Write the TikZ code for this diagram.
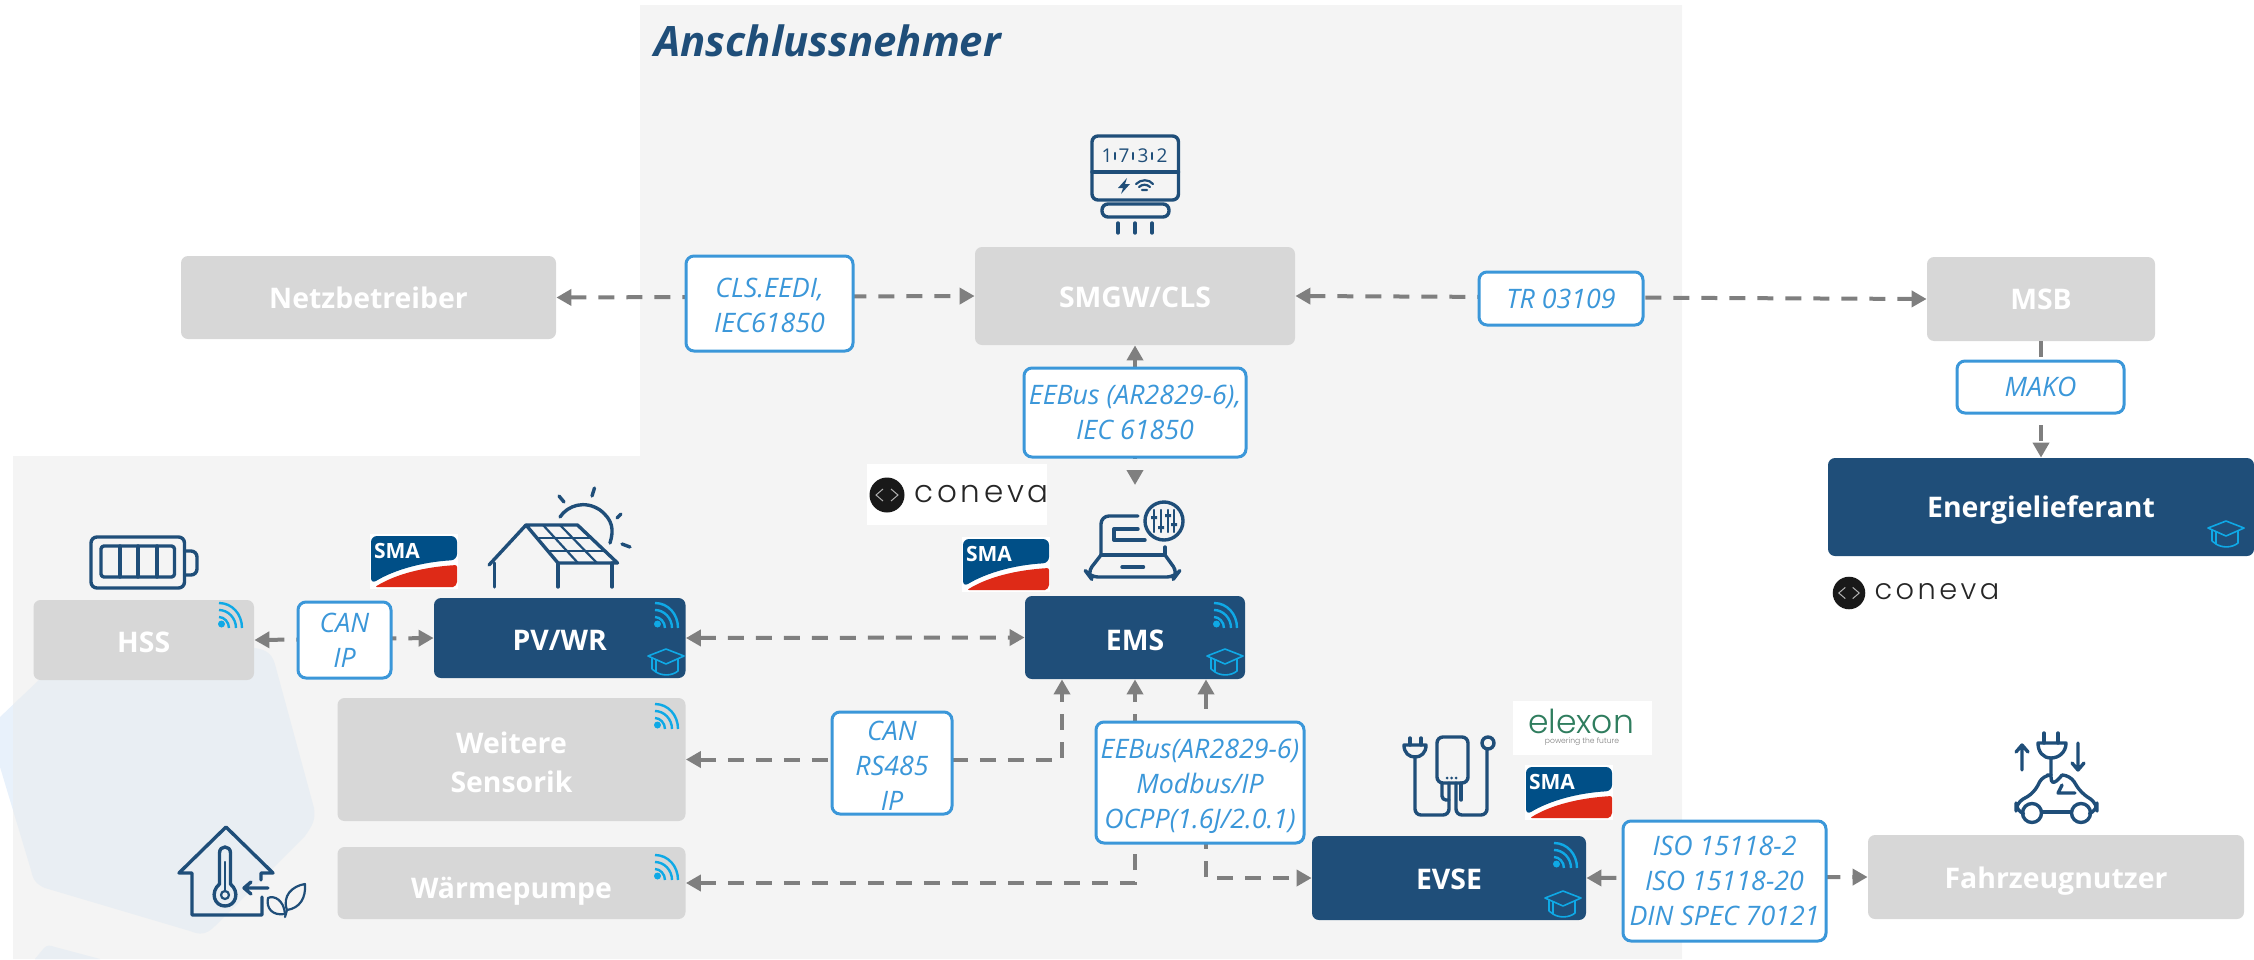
\documentclass[tikz,border=0pt]{standalone}
\usepackage{fontspec}
\setmainfont{Open Sans}
\newfontfamily\logofont[LetterSpace=12]{Poppins Light}
\newfontfamily\elexfont{Poppins Light}
\usetikzlibrary{arrows.meta}
\newcommand{\lw}[1]{\rule{0pt}{#1pt}}
\definecolor{dkblue}{HTML}{1F4E79}
\definecolor{panelgray}{HTML}{F4F4F4}
\definecolor{boxgray}{HTML}{D7D7D7}
\definecolor{linegray}{HTML}{7F7F7F}
\definecolor{tagblue}{HTML}{3B97D9}
\definecolor{skyblue}{HTML}{0FA9E6}
\definecolor{smablue}{HTML}{004F87}
\definecolor{smared}{HTML}{DE2A17}
\definecolor{hexin}{HTML}{E9EEF3}
\definecolor{hexout}{HTML}{E8F1FB}
\definecolor{elexgreen}{HTML}{2F7D5E}
\tikzset{
  x=0.5pt,y=-0.5pt,
  graybox/.style={fill=boxgray,rounded corners=3.5pt,inner sep=0pt,text=white,font=\bfseries\fontsize{14.2}{19.5}\selectfont,align=center},
  bluebox/.style={graybox,fill=dkblue},
  tag/.style={draw=tagblue,fill=white,line width=1.5pt,rounded corners=4pt,inner sep=0pt,text=tagblue,font=\itshape\fontsize{13.4}{17.5}\selectfont,align=center},
  link/.style={draw=linegray,line width=2pt,dash pattern=on 8pt off 6pt,{Triangle[length=7.5pt,width=8pt]}-{Triangle[length=7.5pt,width=8pt]}},
  linkto/.style={draw=linegray,line width=2pt,dash pattern=on 8pt off 6pt,-{Triangle[length=7.5pt,width=8pt]}},
  icon/.style={draw=dkblue,line width=1.7pt,line cap=round,line join=round},
  thinicon/.style={draw=dkblue,line width=1.1pt,line cap=round,line join=round},
  wifi/.pic={
    \fill[skyblue] (3.5,21) circle[radius=3.5];
    \draw[skyblue,line width=1.2pt] (1,14) .. controls (6,14) and (11,19) .. (11,25);
    \draw[skyblue,line width=1.2pt] (1,7) .. controls (10,7) and (18,15) .. (18,25);
    \draw[skyblue,line width=1.2pt] (1,0) .. controls (14,0) and (24,11) .. (24,25);
  },
  cap/.pic={
    \draw[skyblue,line width=0.8pt,line join=round] (18,0) -- (36,7) -- (18,15) -- (0,7) -- cycle;
    \draw[skyblue,line width=0.8pt,line join=round] (8,11) -- (8,23) .. controls (14,27) and (24,27) .. (30,22) -- (30,10);
    \draw[skyblue,line width=0.8pt] (4,9) -- (4,20) (4,20) -- (8,23);
  },
  sma/.pic={
    \fill[white] (0,0) rectangle (88,55);
    \fill[smablue,rounded corners=3pt] (1,2) -- (87,2) -- (87,26) .. controls (52,28) and (24,36) .. (1,50) -- cycle;
    \fill[smared,rounded corners=1pt] (5,53) .. controls (26,40) and (54,33) .. (87,31) -- (87,46) .. controls (87,50) and (85,53) .. (81,53) -- cycle;
    \node[text=white,font=\bfseries\fontsize{10.5}{11}\selectfont,inner sep=0pt] (t) at (27,17) {SMA};
  },
  conevalogo/.pic={
    \fill[black!90] (0,0) circle[radius=17.5];
    \draw[white!70!black,line width=0.5pt] (-4,-6) -- (-11,0) -- (-4,6) (4,-6) -- (11,0) -- (4,6);
    \node[anchor=west,text=black!85,font=\logofont\fontsize{15.5}{17}\selectfont,inner sep=0pt] (t) at (27,-1) {coneva};
  }
}
\begin{document}
\begin{tikzpicture}
\useasboundingbox (0,0) rectangle (2254,959);
\def\hexa{(200,642) -- (255,648) .. controls (268,650) and (273,655) .. (276,668) -- (314,808) .. controls (316,820) and (312,826) .. (305,836) -- (215,926) .. controls (206,935) and (200,935) .. (190,931) -- (45,888) .. controls (36,884) and (33,880) .. (31,870) -- (0,767) -- (0,717) -- (39,680) -- cycle}
\def\hexb{(35,959) -- (44,948) .. controls (47,945) and (50,945) .. (55,947) -- (100,959) -- cycle}
% background
\fill[hexout] \hexa;
\fill[hexout] \hexb;
\fill[panelgray] (640,5) -- (1682,5) -- (1682,959) -- (13,959) -- (13,456) -- (640,456) -- cycle;
\begin{scope}
  \clip (13,456) rectangle (1682,959);
  \fill[hexin] \hexa;
  \fill[hexin] \hexb;
\end{scope}
\node[anchor=west,text=dkblue,font=\bfseries\itshape\fontsize{20.9}{24}\selectfont,inner sep=0pt] (title) at (654,41) {Anschlussnehmer};

% boxes
\node[graybox,minimum width=187.5pt,minimum height=41.5pt] (net) at (368.5,297.5) {Netzbetreiber};
\node[graybox,minimum width=160pt,minimum height=49pt] (smgw) at (1135,296) {\lw{12}SMGW/CLS};
\node[graybox,minimum width=114pt,minimum height=42pt] (msb) at (2041,299) {MSB};
\node[bluebox,minimum width=213pt,minimum height=49pt] (energie) at (2041,507) {\lw{13.8}Energielieferant};
\node[graybox,minimum width=110.25pt,minimum height=40pt] (hss) at (143.75,640) {\lw{13}HSS};
\node[bluebox,minimum width=125.75pt,minimum height=40pt] (pv) at (559.75,638) {\lw{12}PV/WR};
\node[graybox,minimum width=174pt,minimum height=61.5pt] (weitere) at (511.5,759.5) {\lw{13.5}Weitere\\Sensorik};
\node[graybox,minimum width=174pt,minimum height=36pt] (waerme) at (511.5,883) {\lw{19}Wärmepumpe};
\node[bluebox,minimum width=110pt,minimum height=41.5pt] (ems) at (1135,637.5) {\lw{13}EMS};
\node[bluebox,minimum width=137pt,minimum height=42pt] (evse) at (1449,878) {\lw{12}EVSE};
\node[graybox,minimum width=188pt,minimum height=42pt] (fahr) at (2056,877) {\lw{15}Fahrzeugnutzer};

% connectors
\coordinate (emsL) at ([xshift=-36.5pt]ems.south);
\coordinate (emsR) at ([xshift=35.5pt]ems.south);
\coordinate (laptopTop) at (1135,485);
\draw[link] (net.east) -- (smgw.west);
\draw[link] (smgw.east) -- (msb.west);
\draw[link] (smgw.south) -- (laptopTop);
\draw[linkto] (msb.south) -- (energie.north);
\draw[link] (hss.east) -- (pv.west);
\draw[link] (pv.east) -- (ems.west);
\draw[link] (weitere.east) -| (emsL);
\draw[link] (waerme.east) -| (ems.south);
\draw[link] (emsR) |- (evse.west);
\draw[link] (evse.east) -- (fahr.west);

% tags
\node[tag,minimum width=83.5pt,minimum height=47.5pt] (tcls) at (769.5,303.5) {\lw{12}CLS.EEDI,\\IEC61850};
\node[tag,minimum width=82pt,minimum height=26.5pt] (ttr) at (1561,298.5) {TR 03109};
\node[tag,minimum width=111pt,minimum height=44.5pt] (tee1) at (1135,412.5) {EEBus (AR2829-6),\\IEC 61850};
\node[tag,minimum width=83.5pt,minimum height=26pt] (tmako) at (2040.5,387) {MAKO};
\node[tag,minimum width=46.5pt,minimum height=38pt] (tcan2) at (344.5,640) {CAN\\IP};
\node[tag,minimum width=60pt,minimum height=51pt] (tcan3) at (892,763) {\lw{12.2}CAN\\RS485\\IP};
\node[tag,minimum width=104pt,minimum height=60.5pt] (tee2) at (1200,782.5) {\lw{14}EEBus(AR2829-6)\\Modbus/IP\\OCPP(1.6J/2.0.1)};
\node[tag,minimum width=101.5pt,minimum height=60pt] (tiso) at (1724.5,881) {ISO 15118-2\\ISO 15118-20\\DIN SPEC 70121};

% wifi and caps
\foreach \px/\py in {218/603,654/603,654/704,654/855,1213/603,1553/843} \pic at (\px,\py) {wifi};
\foreach \px/\py in {648/649,1207/649,1545/891,2208/521} \pic at (\px,\py) {cap};

% logos
\pic (smaA) at (370,534) {sma};
\pic (smaB) at (962,537) {sma};
\pic (smaC) at (1525,765) {sma};
\fill[white] (867,464) rectangle (1047,525);
\pic (conA) at (887,495) {conevalogo};
\pic[scale=0.93,transform shape] (conB) at (1849,593) {conevalogo};
\fill[white] (1513,701) rectangle (1652,755);
\node[text=elexgreen,font=\elexfont\fontsize{16.5}{20}\selectfont,inner sep=0pt] (elexA) at (1581,721) {elexon};
\node[text=black!50,font=\elexfont\fontsize{3.8}{5}\selectfont,inner sep=0pt] (elexB) at (1582,742) {powering the future};

% battery
\draw[icon,rounded corners=3pt] (91,537) rectangle (184.5,588);
\draw[icon,rounded corners=3pt] (184.5,551) -- (197,551) -- (197,575) -- (184.5,575);
\draw[icon,rounded corners=1.5pt] (101,546) rectangle (174.5,577);
\draw[icon] (120,546) -- (120,577) (138,546) -- (138,577) (157,546) -- (157,577);

% house with PV
\draw[icon] (489,565) -- (526,525);
\draw[icon] (526,525) -- (577.5,525) -- (617.5,563) -- (558,563) -- cycle;
\draw[icon] (494.5,563) -- (494.5,587) (558,563) -- (558,587) (612,563) -- (612,587);
\draw[thinicon] (539,538) -- (591,538) (550,551) -- (604,551);
\draw[thinicon] (543,525) -- (578,563) (560,525) -- (597,563);
\draw[icon] (560,517) .. controls (568,505) and (585,500) .. (600,510) .. controls (613,520) and (614,530) .. (610,543);
\draw[icon] (559,496) -- (564,502) (594.5,488) -- (592,496) (621,514) -- (617,518) (622,544) -- (630,547);

% thermometer house
\draw[icon] (261,880) -- (261,873) -- (273,873) -- (226,827) -- (179,873) -- (192,873) -- (192,915) -- (262,915) -- (262,897);
\draw[icon] (219.5,884) -- (219.5,853) .. controls (219.5,845) and (230.5,845) .. (230.5,853) -- (230.5,884) .. controls (240,892) and (236,906) .. (225,906) .. controls (214,906) and (210,892) .. (219.5,884) -- cycle;
\draw[thinicon] (225,862) -- (225,890);
\draw[thinicon] (225,895) circle[radius=4];
\draw[icon] (268,888) -- (244,888) (251,882) -- (244,888) -- (251,894);
\draw[thinicon] (268,898) .. controls (274,895) and (284,900) .. (285,914) .. controls (272,916) and (266,908) .. (268,898) -- cycle;
\draw[thinicon] (305,884) .. controls (292,886) and (282,896) .. (287,910) .. controls (300,908) and (306,898) .. (305,884) -- cycle (287,910) -- (285,917);

% laptop
\draw[icon,rounded corners=4pt] (1101,555) -- (1101,516) -- (1138,516);
\draw[icon] (1165,547) -- (1165,555) -- (1101,555);
\draw[icon,rounded corners=4pt] (1101,555) -- (1087,573) -- (1090,577) -- (1175,577) -- (1178,573) -- (1165,555);
\draw[icon] (1122,567) -- (1143.5,567);
\draw[icon] (1138,529) -- (1114,529) -- (1114,540) -- (1145,540);
\draw[icon] (1164,521) circle[radius=19];
\draw[thinicon] (1154,510) -- (1154,532) (1161,510) -- (1161,532) (1168,510) -- (1168,532) (1174,510) -- (1174,532);
\fill[dkblue] (1151,516) rectangle (1157,519) (1158,526) rectangle (1164,529) (1165,514) rectangle (1171,517) (1171,523) rectangle (1177,526);

% smart meter
\draw[icon,rounded corners=3pt] (1092,136) rectangle (1178.5,200);
\draw[icon] (1092,172) -- (1178.5,172);
\foreach \nm/\dx/\dg in {dA/1107/1,dB/1124/7,dC/1143/3,dD/1162/2}
  \node[text=dkblue,font=\fontsize{9.5}{10}\selectfont,inner sep=0pt] (\nm) at (\dx,156) {\dg};
\draw[thinicon] (1115,153) -- (1115,159) (1133,153) -- (1133,159) (1152,153) -- (1152,159);
\fill[dkblue] (1127,178) -- (1118,188) -- (1123,188) -- (1121,194) -- (1130,184) -- (1125,184) -- cycle;
\draw[thinicon] (1136,184) .. controls (1141,179) and (1149,179) .. (1153,184) (1139,187) .. controls (1142,184) and (1147,184) .. (1150,187) (1142,190) -- (1147,190);
\draw[icon,rounded corners=3pt] (1102,204) -- (1102,217) -- (1169,217) -- (1169,204) -- cycle;
\draw[icon] (1118,223) -- (1118,233) (1135,223) -- (1135,233) (1152,223) -- (1152,233);

% charger
\draw[icon] (1410,738) -- (1410,745) (1421,738) -- (1421,745);
\draw[icon] (1404,745) -- (1426,745) .. controls (1426,753) and (1421,757) .. (1415,757) .. controls (1409,757) and (1404,753) .. (1404,745) -- cycle;
\draw[icon,rounded corners=3pt] (1415,757) -- (1415,815) -- (1449,815) -- (1449,783);
\draw[icon,rounded corners=3pt] (1437,737) rectangle (1468,783);
\draw[icon,rounded corners=2pt] (1442,783) -- (1442,800) -- (1449,800);
\draw[icon,rounded corners=3pt] (1456,783) -- (1456,815) -- (1487,815) -- (1487,750);
\draw[icon] (1461,783) -- (1461,800);
\draw[icon] (1488,743) circle[radius=6];
\fill[dkblue] (1447,778) circle[radius=1.5] (1451.5,778) circle[radius=1.5] (1456,778) circle[radius=1.5];

% car
\draw[icon] (2044,733) -- (2044,743) (2058,733) -- (2058,743);
\draw[icon] (2038,743) -- (2066,743) .. controls (2066,752) and (2059,758) .. (2051,758) .. controls (2043,758) and (2038,752) .. (2038,743) -- cycle;
\draw[icon] (2051,758) -- (2051,777) .. controls (2051,790) and (2062,775) .. (2062,775);
\draw[icon] (2022,770) -- (2022,745) (2016,752) -- (2022,745) -- (2028,752);
\draw[icon] (2078,743) -- (2078,770) (2072,763) -- (2078,770) -- (2084,763);
\draw[icon,rounded corners=4pt] (2022,813) -- (2016,811) -- (2016,803) -- (2034,793) -- (2043,775) -- (2047,775);
\draw[icon,rounded corners=4pt] (2062,775) -- (2070,775) -- (2081,793) -- (2097,803) -- (2097,811) -- (2091,813);
\draw[icon] (2042,812) -- (2071,812);
\draw[icon] (2062,785) -- (2058,793) -- (2075,793);
\draw[icon] (2032,813) circle[radius=9.5] (2081,813) circle[radius=9.5];
\end{tikzpicture}
\end{document}
